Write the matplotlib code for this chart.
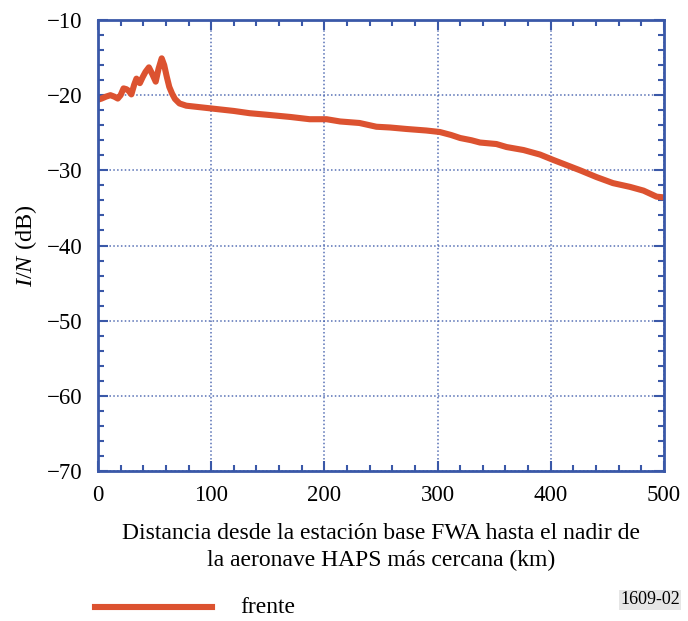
import numpy as np
import matplotlib.pyplot as plt
from matplotlib.ticker import MultipleLocator

plt.rcParams['font.family'] = ['Liberation Serif', 'DejaVu Serif']
plt.rcParams['mathtext.fontset'] = 'custom'
plt.rcParams['mathtext.it'] = 'Liberation Serif:italic'
plt.rcParams['mathtext.rm'] = 'Liberation Serif'

# distance (km) and I/N (dB)
dist = [0, 3.2, 7, 11, 14.5, 17.5, 20, 22.6, 25, 27, 29.5, 32, 34, 37, 39.5, 42,
        45, 48, 51, 53.5, 56.3, 58.5, 60.7, 63, 65.5, 68, 72, 78, 90, 102, 120,
        134, 149, 170, 187, 202, 214, 231, 246, 258, 272.7, 290, 302, 312, 320,
        330, 337.5, 352, 361, 376, 390.5, 402, 414, 426, 440.5, 455, 470, 482,
        493.5, 500]
i_n = [-20.6, -20.45, -20.2, -20.0, -20.2, -20.45, -20.0, -19.1, -19.2, -19.4,
       -19.9, -18.6, -17.8, -18.4, -17.6, -16.9, -16.3, -17.2, -18.2, -16.5,
       -15.1, -16.0, -17.5, -18.9, -19.8, -20.5, -21.1, -21.4, -21.6, -21.8,
       -22.1, -22.4, -22.6, -22.9, -23.2, -23.2, -23.5, -23.7, -24.2, -24.3,
       -24.5, -24.7, -24.9, -25.3, -25.7, -26.0, -26.3, -26.5, -26.9, -27.3,
       -27.9, -28.6, -29.3, -30.0, -30.9, -31.7, -32.2, -32.7, -33.5, -33.6]
y_ticks = [-70, -60, -50, -40, -30, -20, -10]

blue = '#3a58a8'
red = '#dc5230'

fig = plt.figure(figsize=(6.88, 6.21), dpi=100)
ax = fig.add_axes([0.1424, 0.2415, 0.8226, 0.7263])

ax.plot(dist, i_n, color=red, lw=4.4, solid_joinstyle='round',
        solid_capstyle='butt')

ax.set_xlim(0, 500)
ax.set_ylim(-70, -10)
ax.xaxis.set_major_locator(MultipleLocator(100))
ax.xaxis.set_minor_locator(MultipleLocator(20))
ax.yaxis.set_minor_locator(MultipleLocator(2))
ax.set_yticks(y_ticks)
ax.set_yticklabels(['\u2212%d' % abs(v) for v in y_ticks])

ax.tick_params(which='both', direction='in', top=True, right=True, color=blue,
               labelsize=16.5)
ax.tick_params(which='major', length=7, width=1.5)
ax.tick_params(axis='x', which='major', pad=10)
ax.tick_params(axis='y', which='major', pad=11)
ax.tick_params(which='minor', length=4, width=1.5)
for s in ax.spines.values():
    s.set_color(blue)
    s.set_linewidth(2)

ax.grid(True, which='major', color=blue, ls=(0, (1, 1.5)), lw=1.1, alpha=0.85)
ax.set_axisbelow(True)

ax.set_ylabel(r'$\mathit{I/N}$ (dB)', fontsize=17.5, labelpad=6)
ax.set_xlabel('Distancia desde la estación base FWA hasta el nadir de\n'
              'la aeronave HAPS más cercana (km)', fontsize=17, labelpad=12,
              linespacing=1.4)

# legend drawn under the axes
fig.add_artist(plt.Line2D([0.138, 0.308], [0.022, 0.022], color=red, lw=4.4))
fig.text(0.349, 0.022, 'frente', fontsize=17, va='center')
fig.text(0.988, 0.034, '1609-02', fontsize=13, ha='right', va='center',
         bbox=dict(facecolor='#e6e6e6', edgecolor='none', pad=1))

fig.savefig('out.png', dpi=100)
